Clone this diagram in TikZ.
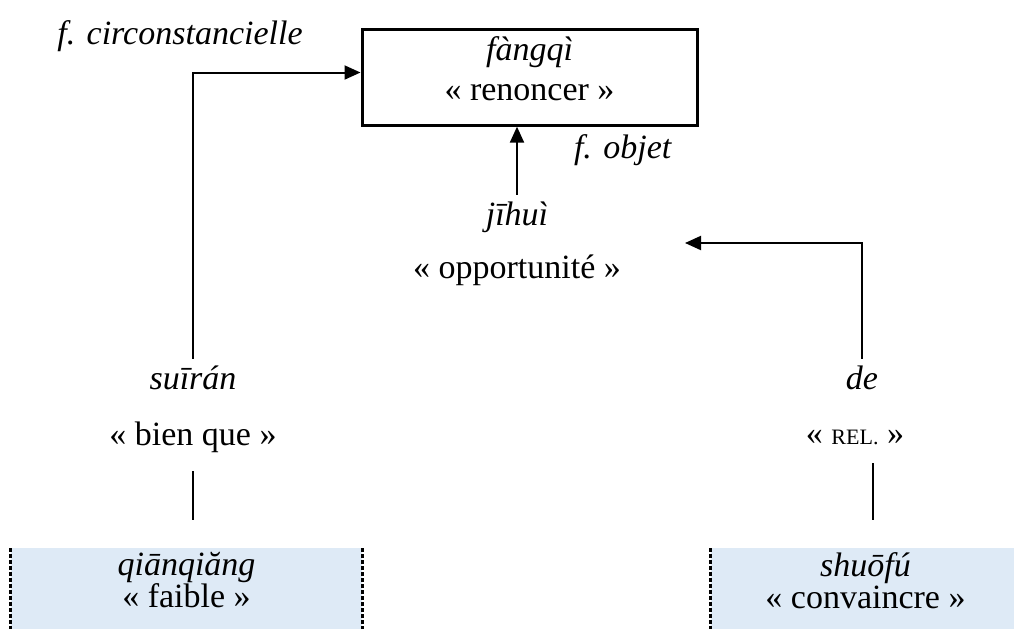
\documentclass[tikz,border=0pt]{standalone}
\usepackage{fontspec}
\setmainfont{Liberation Serif}
\usetikzlibrary{arrows.meta,backgrounds}
\definecolor{glossblue}{HTML}{DEEAF6}
\tikzset{
  every node/.style={font=\fontsize{17}{20}\selectfont},
  head/.style={-{Triangle[length=8pt,width=7pt]},line width=1pt},
  link/.style={line width=0.75pt},
  leaf/.style={align=center,anchor=north,inner ysep=2pt,font=\fontsize{17}{16}\selectfont},
  leafedge/.style={line width=1.25pt,dash pattern=on 2pt off 1pt},
}
\begin{document}
\begin{tikzpicture}[x=0.5pt,y=-0.5pt]
  \useasboundingbox (0,0) rectangle (1014,628);

  \node[draw,line width=1.5pt,minimum width=167.5pt,minimum height=47.5pt,align=center,text depth=9pt] (fangqi) at (529.5,77.5) {\textit{fàngqì}\\« renoncer »};
  \node (circ) at (180,36) {\textit{f. circonstancielle}};
  \node (obj) at (623,150) {\textit{f. objet}};

  \node (jihui) at (517,217) {\textit{jīhuì}};
  \node (opp) at (517,270) {« opportunité »};
  \coordinate (oppin) at (685,243);

  \node (suiran) at (193,378) {\textit{suīrán}};
  \node (bienque) at (193,437) {« bien que »};
  \node (de) at (862,378) {\textit{de}};
  \node (rel) at (855,437) {« {\fontsize{11}{12}\selectfont REL.} »};

  \node[leaf,minimum width=175.5pt] (qiang) at (186.5,548) {\textit{qiānqiăng}\\« faible »};
  \node[leaf,minimum width=154.5pt] (shuofu) at (865.5,548) {\textit{shuōfú}\\« convaincre »};
  \begin{scope}[on background layer]
    \fill[glossblue] (qiang.north west) rectangle ++(351,100);
    \fill[glossblue] (shuofu.north west) rectangle ++(309,100);
  \end{scope}
  \draw[leafedge] (qiang.north west) -- ++(0,100);
  \draw[leafedge] (qiang.north east) -- ++(0,100);
  \draw[leafedge] (shuofu.north west) -- ++(0,100);

  \draw[head] (suiran.north) |- ([yshift=2.5pt]fangqi.west);
  \draw[head] (jihui.north) -- (jihui.north |- fangqi.south);
  \draw[head] (de.north) |- (oppin);
  \draw[link,shorten <=6pt,shorten >=14pt] (bienque.south) -- (bienque.south |- qiang.north);
  \draw[link,shorten <=6pt,shorten >=14pt] ([xshift=9pt]rel.south) -- ([xshift=9pt]rel.south |- shuofu.north);
\end{tikzpicture}
\end{document}
